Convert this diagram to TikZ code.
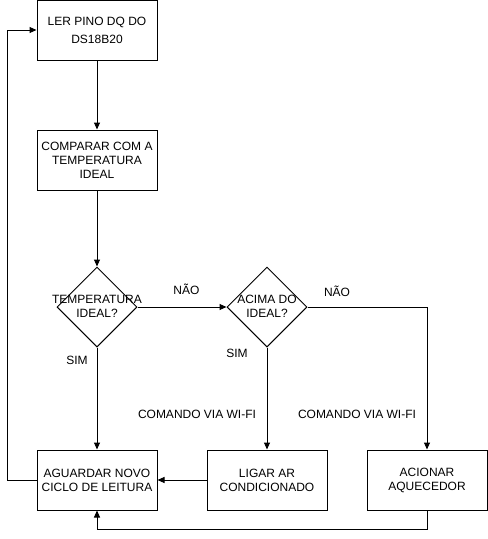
\documentclass[tikz,border=0pt]{standalone}
\usepackage{fontspec}
\setmainfont{Liberation Sans}
\usetikzlibrary{arrows.meta,shapes.geometric}
\begin{document}
\begin{tikzpicture}[x=1pt,y=-1pt,
  every node/.style={font=\fontsize{12}{14}\selectfont},
  box/.style={draw,line width=1pt,minimum width=120pt,minimum height=60pt,align=center,inner sep=0pt},
  dia/.style={draw,line width=1pt,diamond,minimum width=80pt,minimum height=80pt,inner sep=0pt,aspect=1},
  txt/.style={align=center,inner sep=0pt},
  conn/.style={line width=1pt,-{Triangle[length=7pt,width=6pt]}}]
\useasboundingbox (0,0) rectangle (488,539);
\node[box] (ler) at (97,30) {LER PINO DQ DO\\[4pt]DS18B20};
\node[box] (comp) at (97,160) {COMPARAR COM A\\TEMPERATURA\\IDEAL};
\node[dia] (d1) at (97,307) {};
\node[txt] (d1t) at (97,306) {TEMPERATURA\\IDEAL?};
\node[dia] (d2) at (267,307) {};
\node[txt] (d2t) at (267,306) {ACIMA DO\\IDEAL?};
\node[box] (ag) at (97,480) {AGUARDAR NOVO\\CICLO DE LEITURA};
\node[box] (ar) at (267,480) {LIGAR AR\\CONDICIONADO};
\node[box] (aq) at (427,480) {ACIONAR\\AQUECEDOR};
\coordinate (lb) at (7,480);
\coordinate (lt) at (7,30);
\coordinate (rc) at (427,307);
\coordinate (bc) at (427,529);
\coordinate (ba) at (97,529);
\draw[conn] (ler) -- (comp);
\draw[conn] (comp) -- (d1);
\draw[conn] (d1.east) -- (d2.west) node[pos=0.55,above=9pt] (nao1) {NÃO};
\draw[conn] (d1.south) -- (ag.north);
\draw[conn] (d2.south) -- (ar.north);
\draw[conn] (d2.east) -- (rc) -- (aq.north);
\draw[conn] (ar.west) -- (ag.east);
\draw[conn] (ag.west) -- (lb) -- (lt) -- (ler.west);
\draw[conn] (aq.south) -- (bc) -- (ba) -- (ag.south);
\node (sim1) at (77,360) {SIM};
\node (sim2) at (237,353) {SIM};
\node (nao2) at (337,291) {NÃO};
\node (w1) at (197,414) {COMANDO VIA WI-FI};
\node (w2) at (357,414) {COMANDO VIA WI-FI};
\end{tikzpicture}
\end{document}
